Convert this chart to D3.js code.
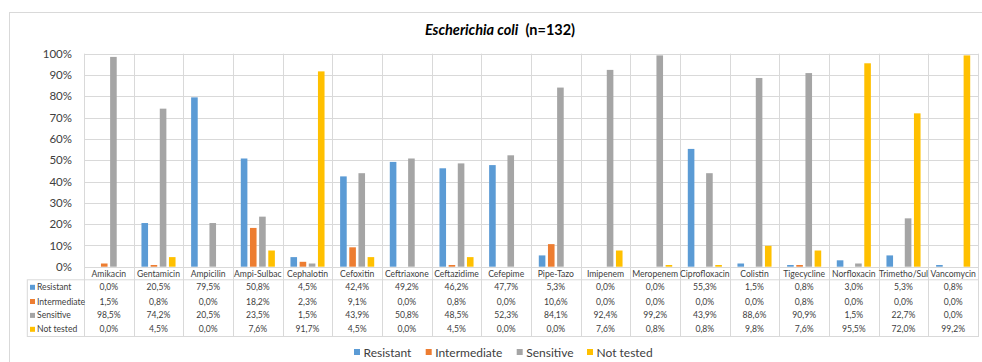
<!DOCTYPE html>
<html>
<head>
<meta charset="utf-8">
<script src="https://cdn.jsdelivr.net/npm/d3@7"></script>
<style>
  html, body { margin: 0; padding: 0; background: #fff; }
  svg { display: block; font-family: Lato, "Open Sans", "Liberation Sans", sans-serif; }
</style>
</head>
<body>
<svg id="chart" width="982" height="362"></svg>
<script>
// Antibiotic susceptibility of Escherichia coli isolates (n=132), percent of isolates
const categories = ["Amikacin", "Gentamicin", "Ampicilin", "Ampi-Sulbac", "Cephalotin", "Cefoxitin",
  "Ceftriaxone", "Ceftazidime", "Cefepime", "Pipe-Tazo", "Imipenem", "Meropenem",
  "Ciprofloxacin", "Colistin", "Tigecycline", "Norfloxacin", "Trimetho/Sul", "Vancomycin"];
const resistant    = [0.0, 20.5, 79.5, 50.8, 4.5, 42.4, 49.2, 46.2, 47.7, 5.3, 0.0, 0.0, 55.3, 1.5, 0.8, 3.0, 5.3, 0.8];
const intermediate = [1.5, 0.8, 0.0, 18.2, 2.3, 9.1, 0.0, 0.8, 0.0, 10.6, 0.0, 0.0, 0.0, 0.0, 0.8, 0.0, 0.0, 0.0];
const sensitive    = [98.5, 74.2, 20.5, 23.5, 1.5, 43.9, 50.8, 48.5, 52.3, 84.1, 92.4, 99.2, 43.9, 88.6, 90.9, 1.5, 22.7, 0.0];
const notTested    = [0.0, 4.5, 0.0, 7.6, 91.7, 4.5, 0.0, 4.5, 0.0, 0.0, 7.6, 0.8, 0.8, 9.8, 7.6, 95.5, 72.0, 99.2];
const seriesNames  = ["Resistant", "Intermediate", "Sensitive", "Not tested"];
const seriesColors = ["#5B9BD5", "#ED7D31", "#A5A5A5", "#FFC000"];
const yTicks = [0, 10, 20, 30, 40, 50, 60, 70, 80, 90, 100];

const seriesValues = [resistant, intermediate, sensitive, notTested];

const svg = d3.select("#chart");
const gridColor = "#d9d9d9";
const textColor = "#404040";
const smallFont = 8.6;

// Outer chart frame
svg.append("rect")
  .attr("x", 9.5).attr("y", 12.5)
  .attr("width", 1000).attr("height", 400)
  .attr("fill", "none").attr("stroke", gridColor);

// Title
const title = svg.append("text")
  .attr("x", 500).attr("y", 35)
  .attr("text-anchor", "middle")
  .attr("font-size", 14.5).attr("font-weight", "bold")
  .attr("fill", "#000");
title.append("tspan").attr("font-style", "italic").text("Escherichia coli");
title.append("tspan").attr("xml:space", "preserve").text("  (n=132)");

// Plot geometry
const plot = { left: 84, right: 978, top: 53.7, bottom: 266.7 };
const x = d3.scaleBand().domain(categories).range([plot.left, plot.right]).padding(0);
const y = d3.scaleLinear().domain([0, 100]).range([plot.bottom, plot.top]);
const inner = d3.scaleBand().domain(seriesNames)
  .range([0, x.bandwidth()]).paddingInner(0.28).paddingOuter(0.85);

// Table geometry
const table = { left: 27.3, top: 279.3, bottom: 336, labelY: 274 };
const rowY = [287.3, 301.5, 315.4, 329.3];

// Horizontal gridlines
svg.append("g").selectAll("line").data(yTicks.filter(d => d > 0)).join("line")
  .attr("x1", plot.left).attr("x2", plot.right)
  .attr("y1", d => Math.round(y(d)) + 0.5).attr("y2", d => Math.round(y(d)) + 0.5)
  .attr("stroke", gridColor).attr("stroke-width", 1);

// Vertical category separators running from the plot top through the data table
const bounds = categories.map(c => x(c)).concat([plot.right]);
svg.append("g").selectAll("line").data(bounds).join("line")
  .attr("x1", d => Math.round(d) + 0.5).attr("x2", d => Math.round(d) + 0.5)
  .attr("y1", plot.top).attr("y2", table.bottom)
  .attr("stroke", gridColor);

// Y axis labels
const yAxis = d3.axisLeft(y).tickValues(yTicks).tickFormat(d => d + "%").tickSize(0).tickPadding(12);
const yg = svg.append("g").attr("transform", `translate(${plot.left},0)`).call(yAxis);
yg.select(".domain").remove();
yg.selectAll("text").attr("font-size", 11.5).attr("fill", textColor)
  .attr("font-family", "Lato, 'Open Sans', sans-serif");

// Bars
const groups = svg.append("g").selectAll("g").data(categories).join("g")
  .attr("transform", c => `translate(${x(c)},0)`);
groups.selectAll("rect")
  .data((c, i) => seriesNames.map((s, k) => ({ s, k, v: seriesValues[k][i] })))
  .join("rect")
  .attr("x", d => inner(d.s))
  .attr("width", inner.bandwidth())
  .attr("y", d => y(d.v))
  .attr("height", d => y(0) - y(d.v))
  .attr("fill", d => seriesColors[d.k]);

// Baseline
svg.append("line")
  .attr("x1", plot.left).attr("x2", plot.right)
  .attr("y1", Math.round(plot.bottom) + 0.5).attr("y2", Math.round(plot.bottom) + 0.5)
  .attr("stroke", gridColor);

// Category labels
svg.append("g").selectAll("text").data(categories).join("text")
  .attr("x", c => x(c) + x.bandwidth() / 2).attr("y", table.labelY)
  .attr("dy", "0.35em").attr("text-anchor", "middle")
  .attr("font-size", smallFont).attr("fill", textColor)
  .text(c => c);

// Data table frame
svg.append("rect")
  .attr("x", table.left).attr("y", table.top + 0.5)
  .attr("width", plot.right - table.left + 0.5).attr("height", table.bottom - table.top)
  .attr("fill", "none").attr("stroke", gridColor);

const fmt = v => d3.format(".1f")(v).replace(".", ",") + "%";

// Table rows: legend key, series name, then one value per category
seriesNames.forEach((name, k) => {
  const row = svg.append("g");
  row.append("rect")
    .attr("x", 30).attr("y", rowY[k] - 2.5).attr("width", 5).attr("height", 5)
    .attr("fill", seriesColors[k]);
  row.append("text")
    .attr("x", 37).attr("y", rowY[k]).attr("dy", "0.35em")
    .attr("font-size", smallFont).attr("fill", textColor).text(name);
  row.selectAll("text.v").data(categories).join("text")
    .attr("class", "v")
    .attr("x", c => x(c) + x.bandwidth() / 2).attr("y", rowY[k]).attr("dy", "0.35em")
    .attr("text-anchor", "middle").attr("font-size", smallFont).attr("fill", textColor)
    .text((c, i) => fmt(seriesValues[k][i]));
});

// Legend
const legendItems = [
  { name: "Resistant", x: 354 },
  { name: "Intermediate", x: 425.7 },
  { name: "Sensitive", x: 516.7 },
  { name: "Not tested", x: 587 }
];
const legend = svg.append("g");
legendItems.forEach((it, k) => {
  legend.append("rect")
    .attr("x", it.x).attr("y", 349).attr("width", 6).attr("height", 6)
    .attr("fill", seriesColors[k]);
  legend.append("text")
    .attr("x", it.x + 9.5).attr("y", 352.3).attr("dy", "0.35em")
    .attr("font-size", 12).attr("fill", textColor).text(it.name);
});
</script>
</body>
</html>
